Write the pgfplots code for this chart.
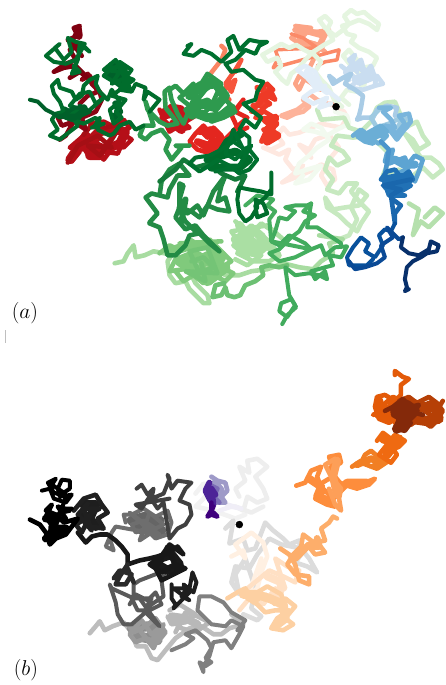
\documentclass[border=0pt]{standalone}
\usepackage{pgfplots}
\pgfplotsset{compat=1.18}
\newcommand\W[3][4.6]{\xglobal\definecolor{c#2}{HTML}{#2}\addplot[color=c#2,line width=#1 bp,line join=round,line cap=round,no marks] coordinates {#3};}
\begin{document}
\begin{tikzpicture}
\begin{axis}[at={(0,0)},anchor=south west,width=445bp,height=685bp,scale only axis,xmin=0,xmax=445,ymin=0,ymax=685,y dir=reverse,hide axis,clip=false]
% ----- panel a : reds
\W{FEE8E0}{(337,107)(345,112)(348,118)(342,128)(332,126)(322,124)(312,128)(300,133)(290,135)(284,128)(278,136)(284,144)(272,150)(264,148)(280,155)(290,150)(286,160)(294,170)(304,166)(290,178)(283,183)(296,178)(310,172)(322,165)(334,170)(336,180)(328,186)(322,176)(330,160)(340,148)(330,135)(316,140)(310,150)(300,145)(312,158)}
\W{FDB39A}{(340,105)(328,104)(318,100)(310,94)(304,100)(310,107)(304,112)(296,114)(288,118)(282,116)(298,110)(306,104)}
\W[6]{FCA486}{(296,30)(312,32)(326,34)(320,46)(300,40)}
\W{FCA486}{(322,90)(310,82)(300,76)(296,84)(300,90)(318,52)(324,46)(312,48)(298,42)(292,38)(304,32)(318,32)(330,30)(322,36)(300,30)(296,26)(312,28)(300,40)(316,44)(326,52)}
\W[3.5]{FB8A68}{(292,34)(304,38)(318,48)(276,50)(282,66)(278,60)(274,68)(340,50)(338,60)(326,62)(318,66)}
\W{FA8562}{(205,80)(212,85)(203,90)(210,82)(200,88)(222,60)(226,50)(222,46)}
\W{F6553C}{(230,100)(222,92)(236,80)(232,92)(226,84)(236,70)(242,60)(236,72)}
\W[8]{EE3A26}{(266,120)(276,124)(268,130)(278,136)(268,142)(276,118)}
\W[6]{F03F2A}{(258,88)(268,92)(258,100)(270,104)(254,106)}
\W{EE3A26}{(268,84)(274,90)(262,96)(270,104)(262,110)(272,116)(266,122)(274,128)(264,130)(276,138)(262,142)(272,120)(256,118)(264,112)(252,112)(262,102)(258,92)(268,84)(276,100)(268,96)}
\W[7]{E3261F}{(200,132)(212,130)(222,138)(210,146)(198,142)(214,152)(224,148)}
\W{E3261F}{(200,130)(208,138)(214,128)(222,136)(216,146)(224,152)(206,148)(214,138)(204,126)(196,134)(190,142)(198,150)(212,154)(240,125)(248,118)(236,112)(244,100)(232,115)(240,132)(248,128)}
\W[9]{C8141B}{(166,112)(178,112)(186,118)(174,124)(182,130)}
\W{C8141B}{(164,112)(172,106)(182,108)(188,116)(182,122)(172,116)(162,118)(170,126)(180,130)(190,128)(178,118)(168,110)(186,122)(190,110)(196,116)(170,132)(160,110)}
\W[9]{B50F18}{(76,150)(90,142)(100,132)(114,130)(126,132)(120,144)(106,150)(96,146)(90,156)(100,156)(86,136)(70,160)}
\W{B50F18}{(72,162)(80,152)(76,144)(88,150)(92,136)(100,128)(90,124)(104,122)(112,126)(124,120)(130,128)(120,132)(132,140)(124,148)(116,144)(110,152)(104,160)(96,152)(90,158)(84,148)(94,142)(104,148)(114,136)(102,132)(96,144)(82,142)(74,150)(84,136)(70,148)(118,154)(126,136)(110,128)}
\W{A50F15}{(84,135)(92,125)(106,128)(122,124)(112,140)(100,156)(88,146)(112,148)(98,136)(78,146)(68,163)}
\W{8B0514}{(60,140)(66,136)(72,125)(68,116)(58,118)(62,126)(74,122)(86,130)(82,118)(96,112)(102,100)(100,92)(92,84)(88,74)(82,80)(90,76)(98,92)(88,96)(80,104)}
\W{7F0010}{(70,78)(80,72)(88,78)(76,66)(64,68)(54,72)(66,64)(76,60)(70,50)(80,46)(72,42)(76,34)(80,26)(74,28)(78,36)(68,40)(76,48)(82,56)}
\W[8]{7F0010}{(78,29)(79,36)}
% ----- greens
\W{E5F5E0}{(343,107)(335,100)(330,88)(322,80)(316,72)(322,62)(315,55)(305,50)(297,45)(290,48)(282,44)(272,50)(263,55)(268,62)(278,58)(282,66)(276,72)(283,80)(288,84)(292,74)(300,68)(306,60)(314,52)(325,45)(334,40)(328,30)(332,22)(326,16)(320,20)(326,28)(336,36)(344,30)(350,24)(345,16)(352,10)(358,14)(365,12)(372,18)(380,24)(378,30)(370,24)(360,20)(350,24)(343,26)(348,34)(356,36)(352,42)(360,48)(370,52)(378,58)(374,66)(364,68)(358,60)(350,50)(344,56)(352,66)(360,74)(366,84)(358,92)(348,90)(342,98)(350,105)}
\W{F2FAEF}{(336,112)(348,116)(350,124)(338,130)(328,136)(316,132)(304,130)(312,124)(322,128)(330,140)(318,148)(310,156)(300,164)(296,174)(308,170)(322,166)(310,180)(296,184)(304,176)}
\W{C7E9C0}{(318,110)(322,120)(345,118)(350,128)(362,132)(372,122)(378,108)(386,103)(396,102)(402,116)(410,126)(418,122)(424,136)(430,144)(420,150)(414,140)(406,134)(422,158)(432,158)(440,164)(444,170)(434,178)(424,168)(412,178)(400,170)(384,176)(392,156)(382,146)(370,136)(354,138)(338,136)(332,146)(344,152)(350,160)(338,166)(330,158)(326,170)(334,180)(328,190)(340,194)(348,184)(358,184)(352,192)(362,204)(370,212)(362,224)(358,232)(348,224)(340,216)(328,208)(326,198)(334,210)(346,208)(360,206)(368,196)(360,190)(352,208)(358,220)(350,236)(340,240)}
\W{B5E0AD}{(426,218)(436,208)(444,214)(430,228)(422,222)(414,236)(420,210)(410,204)}
\W{A8DCA1}{(115,264)(124,262)(128,254)(134,246)(136,258)(145,256)(154,252)(165,254)(176,250)(168,262)(170,276)(176,284)(186,282)(190,290)(198,298)(204,304)(210,304)(208,296)(196,284)(190,272)(206,266)(218,270)(226,276)(240,276)(252,272)(268,270)(284,264)(300,268)(314,270)(322,262)(334,254)(330,244)(344,240)(320,236)}
\W[9]{AADFA3}{(240,226)(250,240)(262,250)(246,250)(236,240)(256,232)(268,244)(278,256)}
\W{AADFA3}{(236,222)(246,230)(240,236)(252,226)(264,236)(256,246)(244,240)(234,246)(244,254)(258,256)(268,248)(280,256)(270,262)(254,262)(238,254)(250,236)(262,224)(274,232)(284,240)(268,226)(232,232)(240,244)(250,248)(262,256)(248,266)(236,260)}
\W[10]{80CA7C}{(172,252)(190,246)(208,246)(222,256)(210,262)(194,258)(180,262)(196,272)(212,274)(226,268)(208,282)}
\W{80CA7C}{(160,254)(170,246)(178,250)(190,240)(200,246)(210,240)(220,250)(232,262)(222,268)(234,274)(226,282)(214,276)(204,284)(194,276)(184,282)(176,272)(188,268)(196,260)(208,254)(218,262)(206,272)(196,252)(186,256)(176,260)(170,272)(198,268)(212,262)(226,256)(210,284)(228,270)(180,244)(222,242)}
\W{74C476}{(192,262)(204,258)(214,268)(200,274)(190,252)(208,248)(218,274)(186,272)(206,282)(202,264)}
\W{6CC073}{(225,284)(216,286)(213,298)(222,296)(226,288)(228,296)(235,298)(241,296)(246,286)(256,282)(264,276)(262,268)(270,266)(280,268)(288,266)}
\W[4]{41AB5D}{(283,325)(288,316)(297,308)(292,300)(282,304)(280,312)(288,318)(296,306)(290,296)(288,282)(286,268)(296,276)(310,274)(320,276)(328,280)(326,272)(316,280)(312,272)(326,268)(334,266)(330,256)(342,258)(348,247)(336,248)(326,256)(322,246)(312,250)(306,244)(298,240)(290,236)(280,246)(272,242)(276,232)(280,218)(288,220)(296,212)(286,208)(296,206)(308,206)(312,204)(310,216)(308,228)(318,228)(330,236)(342,244)}
\W[4]{45AE5F}{(312,204)(304,212)(316,216)(306,222)(300,232)(292,238)(280,250)(270,254)(280,262)(296,258)(312,250)(272,242)(270,220)(276,212)(268,206)(274,200)(258,196)(246,206)}
\W[9]{2E9A4E}{(190,96)(204,86)(216,84)(226,96)(216,108)(202,104)(192,112)(208,118)(222,116)(232,108)}
\W{2E9A4E}{(198,100)(206,90)(214,84)(222,96)(230,104)(236,112)(224,118)(212,122)(204,112)(192,118)(186,110)(196,104)(208,100)(218,108)(226,94)(214,78)(200,84)(188,92)(180,98)(190,106)(202,116)(212,106)(222,84)(208,74)(198,90)(184,124)(178,114)(172,100)(170,90)(176,86)(184,94)(194,84)}
\W{2E9A4E}{(170,88)(165,92)(166,108)(174,118)(178,124)(168,126)(160,122)(148,110)(146,102)(154,126)(144,126)(140,136)(146,140)(152,134)(162,130)(170,140)(166,150)(172,160)(182,148)(176,146)(190,146)}
\W{238B45}{(150,223)(158,214)(146,198)(152,194)(160,196)(162,182)(170,170)(180,164)(190,176)(178,176)(170,190)(168,198)(160,196)}
\W[6]{238B45}{(180,208)(186,200)(182,222)}
\W{238B45}{(150,224)(160,228)(164,240)(168,256)(176,256)(186,246)(190,236)(200,234)(210,244)(220,252)(204,236)(196,226)(186,230)(176,218)(180,208)(192,212)(200,218)(208,206)(218,210)(230,212)(226,198)(218,202)(222,186)(226,176)(214,192)(204,216)(198,206)(188,214)(180,200)(184,186)(180,184)(180,210)(186,222)(196,232)}
\W{157A3A}{(160,182)(176,170)(184,160)(196,168)(210,164)(222,174)(236,180)(246,176)(238,192)}
% dark greens
\W[4]{006D2C}{(272,173)(272,195)(262,192)(250,190)(240,188)(238,200)(240,214)(246,222)(252,218)(258,208)(256,200)(264,204)(268,214)(258,218)(256,206)(266,198)(272,190)(272,178)}
\W[8]{006D2C}{(208,160)(222,156)(236,152)(250,160)(240,168)(226,168)(212,168)(228,142)(242,134)}
\W[4]{00702F}{(188,46)(192,44)(184,54)(194,56)(202,50)(212,54)(222,62)(232,52)(228,40)(234,36)(240,50)(250,40)(260,42)(268,42)(260,46)(256,54)(246,50)(236,60)(226,64)(232,72)(244,70)(256,80)(264,82)(258,92)(256,100)(244,104)(254,112)(262,118)(256,128)(246,120)(240,130)(250,138)(250,150)(258,160)(250,170)(240,174)(230,166)(218,160)(210,166)(200,172)(190,164)(196,158)(210,156)(222,150)(234,142)(246,150)(236,160)(226,154)(234,130)(244,150)(252,146)(240,166)(216,172)}
\W[8]{00602A}{(112,66)(124,68)(120,78)(110,76)(126,88)}
\W[7]{00632A}{(116,104)(120,112)(114,118)}
\W[7]{00602A}{(64,110)(72,114)(84,108)(78,118)}
\W[4]{006D2C}{(150,112)(160,100)(148,92)(144,100)(146,88)(136,84)(132,92)(120,90)(128,76)(124,66)(112,68)(104,76)(114,82)(130,88)(120,62)(132,70)(126,78)(112,84)(120,72)(104,70)(116,60)(124,76)(134,80)(112,96)(126,100)(116,112)(122,118)(114,124)(110,110)(120,102)(112,90)(108,100)(100,92)(96,84)(98,76)(90,80)(84,86)(82,96)(76,100)(72,92)(60,88)(58,80)(52,86)(54,94)(60,102)(64,112)(56,114)(52,120)(58,130)(50,136)(60,140)(70,132)(78,126)(72,116)(82,110)(70,106)(80,94)(90,92)(96,104)(104,98)(88,112)(76,112)(66,118)(84,124)(96,118)(100,124)(92,128)}
\W[4]{00602A}{(30,100)(38,102)(46,110)(54,114)(60,118)(74,108)(86,108)(76,116)(60,116)(72,120)(90,112)(80,106)}
\W[4]{006D2C}{(85,44)(76,42)(68,38)(72,52)(64,60)(55,48)(60,44)(46,56)(54,62)(66,64)(76,60)(84,46)(90,52)(80,44)(78,60)(72,74)(80,72)(74,66)}
\W[4]{006D2C}{(104,124)(94,128)(100,118)(98,130)(110,136)(114,134)(120,126)(130,122)(136,130)(144,126)}
% ----- blues
\W[7]{E1EDF8}{(308,72)(318,84)(328,92)}
\W{E1EDF8}{(340,100)(330,92)(322,86)(316,72)(306,66)(298,70)(308,78)(318,90)(326,86)(312,92)(304,98)(314,104)(328,98)(320,108)(332,104)}
\W[7]{C9DDF0}{(350,70)(360,66)(370,76)(356,80)}
\W{C9DDF0}{(350,80)(346,72)(354,64)(358,72)(350,60)(356,55)(350,70)(362,60)(366,74)(372,66)(376,78)(360,84)(352,74)(342,66)(356,78)(370,72)(350,88)(364,90)(376,86)(384,84)(378,76)(376,84)}
\W{A9CCE6}{(335,80)(330,76)(334,84)(344,78)(352,74)(346,84)(356,90)(364,96)(362,108)(360,116)(358,120)(364,118)(374,118)(378,110)(388,106)(398,108)(396,116)}
\W{9ECAE1}{(380,110)(372,118)(378,128)(390,124)(402,118)(412,120)(408,128)(402,122)(396,132)}
\W{79B5DC}{(380,108)(392,108)(384,112)(392,120)(396,128)(386,126)(398,134)(406,124)(400,116)(410,114)(412,122)(404,132)(398,140)(392,132)(382,128)}
\W[8]{6BAED6}{(360,136)(372,136)(384,134)}
\W{6BAED6}{(354,136)(362,130)(370,136)(376,130)(382,132)(388,136)(380,144)(372,140)(380,136)(364,134)(374,144)(366,142)(360,138)(382,126)(388,132)}
\W[8]{5DA4D2}{(396,160)(405,165)(416,165)}
\W{5DA4D2}{(386,162)(388,154)(394,150)(390,164)(406,158)(410,168)(396,176)(404,184)(412,176)(416,182)(420,172)(424,160)(416,156)(408,166)}
\W{4A94CB}{(382,142)(390,150)(388,164)(386,174)(384,180)(398,188)}
\W[9]{2171B5}{(388,180)(400,178)(410,178)(398,190)(390,190)}
\W{2171B5}{(382,180)(388,172)(396,170)(402,178)(410,172)(414,180)(404,186)(396,194)(386,188)(392,180)(402,192)(412,186)(394,178)(384,178)(390,196)(406,196)}
\W{1A67AD}{(394,200)(402,206)(396,214)(396,224)(392,196)(402,190)(384,186)(412,180)}
\W[4]{08519C}{(396,224)(392,232)(386,230)(380,236)(384,246)(376,258)(366,252)(370,244)(362,238)(354,248)(348,258)(350,266)(358,266)(368,266)(374,260)}
\W[4]{0A4A96}{(350,262)(356,270)(366,268)(378,264)(386,258)(382,246)(394,238)(388,228)(400,240)(404,238)}
\W[4]{08306B}{(404,238)(402,248)(410,254)(420,256)(430,250)(432,242)(440,246)(438,252)(428,254)(422,258)(414,262)(408,268)(406,280)(408,288)(406,292)(410,290)}
% ----- dot and labels
\addplot[only marks,mark=*,mark size=3.5bp,black] coordinates {(337,107)};
% ----- panel b : greys
\W{F2F2F2}{(196,495)(204,485)(214,488)(204,500)(196,508)(214,512)(236,520)(246,516)}
\W{EEEEEE}{(240,498)(236,490)(246,482)(240,468)(250,474)(248,462)(258,460)(268,468)(256,478)(264,490)(268,500)(258,504)(248,498)(244,512)(236,508)(252,514)(264,508)}
\W{DCDCDC}{(226,530)(234,522)(230,545)(244,540)(248,552)(256,550)(266,524)(274,532)(284,540)(290,546)(300,542)(302,556)(296,564)(308,568)(318,574)(310,560)(302,550)(282,546)(270,540)(258,556)(250,570)(236,568)(232,584)(240,596)(236,576)(246,560)(256,590)(252,610)(262,618)(258,622)(244,616)}
\W{BDBDBD}{(90,635)(96,628)(100,623)(105,632)(113,628)(124,624)(132,634)(137,648)(146,648)(152,660)(158,662)(166,652)(176,640)(190,630)(202,628)(214,636)(222,636)(230,630)(244,626)(232,616)}
\W[8]{B8B8B8}{(172,618)(186,620)(198,626)}
\W{B8B8B8}{(170,612)(180,606)(196,616)(186,624)(172,626)(168,618)(182,630)(196,634)(210,624)(198,618)(186,614)(176,634)}
\W[10]{8E8E8E}{(132,630)(148,628)(160,632)(148,640)(138,638)(158,642)}
\W{9A9A9A}{(128,626)(134,634)(146,628)(156,620)(166,634)(158,644)(146,640)(136,644)(130,636)(142,622)(152,636)(164,626)(154,650)(140,632)(150,644)(160,634)}
\W[4]{808080}{(172,652)(186,646)(194,640)(186,636)(196,632)(208,642)(212,650)(206,660)(212,664)(206,668)(200,664)(204,674)(204,668)(210,658)(214,644)(226,642)(232,650)(240,636)(244,628)(232,622)(226,628)(212,626)(202,616)(198,612)(200,598)(212,598)(224,604)(232,614)(246,622)(238,632)}
\W[10]{656565}{(132,522)(146,518)(160,522)(150,532)(138,530)(162,532)}
\W[4]{6E6E6E}{(126,524)(124,516)(132,516)(144,510)(156,518)(168,512)(172,524)(168,536)(156,540)(146,530)(136,534)(132,526)(144,522)(156,530)(164,526)(150,514)(140,542)(152,534)(130,514)(160,536)(116,528)(112,534)(106,548)(114,552)(110,540)}
\W[4]{5A5A5A}{(130,606)(136,596)(148,602)(156,594)(162,606)(150,612)(138,612)(132,600)(152,600)(146,610)(164,598)(162,582)(166,572)(140,582)(134,586)(134,600)(112,590)(110,586)(116,604)(118,616)(124,626)(132,626)(146,614)(160,628)(140,600)}
\W[4]{404040}{(137,490)(142,486)(148,496)(154,490)(152,500)(164,495)(170,480)(168,476)(172,490)(178,482)(192,484)(186,490)(180,502)(190,506)(192,516)(186,526)(178,530)(170,540)(164,504)(158,510)(150,498)(142,510)(136,506)(170,500)}
\W[9]{1A1A1A}{(160,560)(172,556)(180,566)(168,572)(158,566)}
\W{181818}{(78,534)(86,544)(92,538)(100,536)(108,536)(116,542)(122,548)(128,556)(128,566)(140,562)(150,560)(158,558)(170,554)(178,548)(184,556)(170,546)(160,560)(150,566)(162,574)(176,566)(186,570)(170,578)(162,582)(156,570)(168,548)(178,574)(172,556)}
\W{2A2A2A}{(128,566)(120,578)(116,586)(126,586)(132,576)(120,572)(114,580)(128,570)(134,584)}
\W[4]{1E1E1E}{(172,586)(172,600)(176,606)(174,610)(184,600)(190,594)(184,586)(194,594)(197,584)(193,574)(190,590)(180,590)(174,590)(190,602)(182,598)(186,592)}
\W[9]{1E1E1E}{(84,506)(96,506)(90,520)(96,528)(84,516)}
\W{202020}{(74,512)(84,500)(96,496)(102,506)(108,514)(98,520)(104,530)(90,528)(86,520)(76,526)(82,534)(92,514)(100,510)(84,510)(92,532)(78,516)(88,505)}
\W[8]{000000}{(46,520)(58,518)(52,530)(66,530)(46,540)}
\W{000000}{(30,521)(40,526)(46,534)(50,546)(56,540)(66,536)(72,528)(78,520)(64,524)(56,516)(46,512)(52,506)(46,518)(54,530)(64,534)(46,540)(52,530)(60,514)(70,512)(58,508)(66,520)}
\W[4]{000000}{(42,492)(50,490)(54,500)(66,504)(72,496)(60,498)(58,490)(62,481)(70,482)(70,490)(64,494)(52,486)(56,480)(48,484)(54,494)(66,498)(62,510)(72,510)}
% oranges
\W{FFF0E2}{(232,558)(244,552)(246,560)(236,546)(252,534)(264,544)(268,558)(262,574)(258,590)(248,600)(262,560)}
\W[8]{FFE0C4}{(268,578)(282,584)(280,598)}
\W{FFE0C4}{(248,590)(258,582)(270,572)(284,578)(296,584)(300,572)(288,568)(276,560)(286,590)(272,598)(282,610)(276,590)(264,606)(250,600)(240,612)}
\W[9]{FDD0A2}{(244,596)(256,596)(270,600)(284,606)(286,620)(278,626)}
\W{FDD0A2}{(228,600)(238,594)(246,590)(254,604)(266,596)(276,606)(286,600)(296,608)(286,620)(294,626)(284,632)(272,630)(278,620)(290,612)(276,612)(266,614)(258,606)(248,600)(268,588)(282,596)(286,610)(280,626)}
\W[7]{FDAE6B}{(296,560)(308,548)(320,548)(318,540)}
\W{FDAE6B}{(281,550)(290,556)(296,566)(300,582)(310,586)(310,578)(296,576)(288,566)(294,556)(302,548)(304,536)(312,542)(320,546)(326,554)(316,556)(308,546)(326,542)(322,530)(330,524)(334,518)(338,520)}
\W[8]{FD8D3C}{(310,480)(322,488)(318,498)(330,502)(348,484)(368,484)}
\W{FD8D3C}{(297,487)(306,484)(312,472)(322,468)(318,478)(324,494)(316,500)(328,506)(336,508)(332,498)(320,486)(330,480)(346,486)(356,488)(366,484)(376,480)(370,486)(358,490)(338,484)(330,458)(340,456)(342,464)(330,470)(336,478)(344,488)}
\W[8]{FD9F58}{(338,462)(334,478)(338,496)}
\W{FD9F58}{(336,460)(326,466)(332,478)(342,490)(340,500)(342,512)(336,506)(330,490)}
\W[7]{F17F24}{(358,466)(372,460)(384,464)}
\W{F17F24}{(353,468)(362,462)(372,468)(384,462)(372,452)(366,456)(362,464)(378,470)(390,462)}
\W[9]{EF6A11}{(384,440)(396,444)(388,456)(400,440)}
\W{EF6A11}{(378,442)(384,434)(392,440)(390,452)(400,448)(406,442)(396,436)(388,446)(380,456)(392,464)(398,456)(386,438)(396,448)}
\W[9]{E35A08}{(380,402)(380,416)(390,420)(394,402)}
\W{E35A08}{(396,376)(396,372)(404,378)(410,380)(402,386)(402,396)(396,402)(386,396)(378,398)(376,408)(380,420)(390,424)(400,418)(392,410)(384,406)(394,398)(404,402)(374,416)(388,414)(398,426)(410,420)}
\W[10]{B64006}{(410,404)(424,408)(436,408)(440,420)(426,422)(412,420)}
\W{B64006}{(400,402)(410,398)(418,404)(430,398)(438,404)(444,412)(438,422)(432,428)(420,420)(412,426)(410,414)(422,410)(432,416)(442,420)(430,404)(418,412)(428,424)(438,412)(444,402)}
\W[10]{84290A}{(396,412)(408,406)(416,412)(404,424)(398,430)}
\W{84290A}{(386,412)(394,408)(404,400)(412,408)(420,406)(412,418)(402,416)(396,430)(406,432)(412,424)(404,422)(394,416)(412,414)(400,410)(424,416)}
% purples
\W{F0EEF7}{(220,512)(232,508)(242,510)(228,506)}
\W[7]{9E9AC8}{(216,484)(222,492)(220,500)}
\W{9E9AC8}{(212,478)(218,482)(226,484)(228,492)(222,498)(226,504)(216,504)(212,494)(222,490)(214,484)(210,498)}
\W{7A6BB5}{(210,486)(218,490)(214,498)(220,504)}
\W[6]{4D2398}{(210,484)(206,492)(210,500)(214,506)(212,490)(216,496)(208,488)}
\W{3F007D}{(212,504)(212,512)(214,508)(208,518)(212,516)(218,518)(214,514)}
\addplot[only marks,mark=*,mark size=3.5bp,black] coordinates {(240,526)};
\addplot[color=black!25,line width=1bp,no marks] coordinates {(6,331)(6,344)};
\node[scale=1.25] at (axis cs:25,314) {\fontsize{19}{22}\selectfont $(a)$};
\node[scale=1.25] at (axis cs:26,672) {\fontsize{19}{22}\selectfont $(b)$};
\end{axis}
\useasboundingbox (0,0) rectangle (445bp,685bp);
\end{tikzpicture}
\end{document}
